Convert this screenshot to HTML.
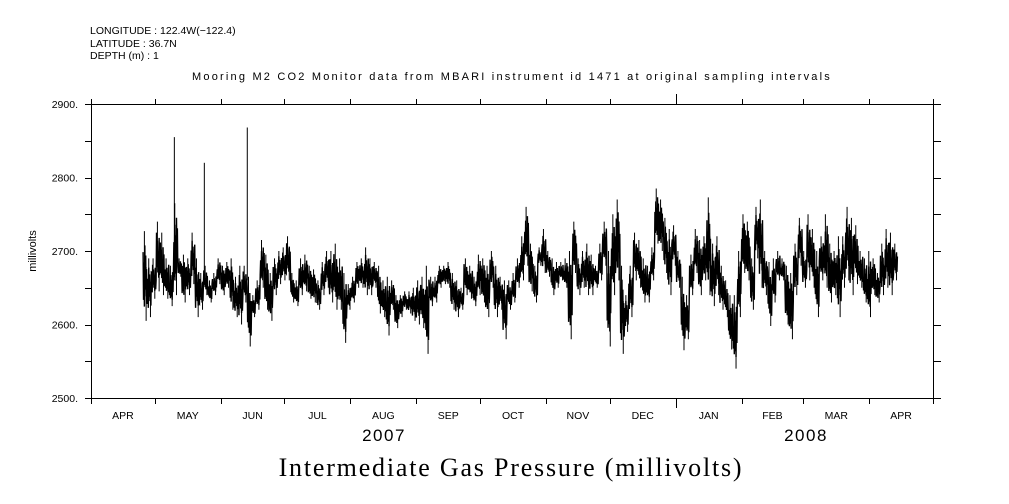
<!DOCTYPE html>
<html><head><meta charset="utf-8"><style>
body{margin:0;background:#fff;width:1009px;height:504px;overflow:hidden}
svg{display:block}
text{font-family:"Liberation Sans",sans-serif;fill:#000}
</style></head><body>
<svg id="chart" width="1009" height="504" viewBox="0 0 1009 504" xmlns="http://www.w3.org/2000/svg">
<g font-size="10.5">
<text x="90" y="34">LONGITUDE : 122.4W(−122.4)</text>
<text x="90" y="47">LATITUDE : 36.7N</text>
<text x="90" y="59">DEPTH (m) : 1</text>
<text x="512" y="80" text-anchor="middle" font-size="11" letter-spacing="2.2">Mooring M2 CO2 Monitor data from MBARI instrument id 1471 at original sampling intervals</text>
</g>
<text x="36" y="251" font-size="11" text-anchor="middle" transform="rotate(-90 36 251)">millivolts</text>
<text x="384" y="441" font-size="17" letter-spacing="1.5" text-anchor="middle">2007</text>
<text x="806" y="441" font-size="17" letter-spacing="1.5" text-anchor="middle">2008</text>
<text x="511" y="476" font-size="26" letter-spacing="1.8" text-anchor="middle" style="font-family:'Liberation Serif',serif">Intermediate Gas Pressure (millivolts)</text>
<g id="axes"></g>
<g id="series"></g>
</svg>
<script>
const monthLabels=["APR","MAY","JUN","JUL","AUG","SEP","OCT","NOV","DEC","JAN","FEB","MAR","APR"];
const monthDays=[30,31,30,31,31,30,31,30,31,31,29,31,30];
const yTicks=[2500,2600,2700,2800,2900];
const startDay=24.5;
const stepDays=2.04;
const hiVals=[2727,2690,2690,2740,2725,2690,2680,2765,2690,2695,2690,2725,2690,2670,2680,2660,2670,2690,2680,2685,2690,2665,2680,2680,2665,2640,2660,2715,2695,2670,2690,2700,2705,2720,2670,2660,2690,2695,2680,2675,2660,2685,2700,2700,2710,2690,2670,2655,2665,2685,2690,2705,2690,2685,2680,2660,2665,2660,2640,2640,2645,2645,2650,2660,2665,2680,
2665,2665,2680,2680,2685,2670,2660,2650,2690,2680,2665,2695,2690,2680,2700,2680,2665,2660,2660,2670,2690,2720,2760,2710,2680,2705,2730,2700,2690,2685,2685,2690,2700,2740,2690,2700,2710,2695,2680,2710,2740,2700,2750,2770,2680,2640,2680,2725,2715,2690,2680,2705,2785,2770,2745,2730,2735,2700,2665,2640,2695,2730,2715,
2720,2773,2710,2720,2680,2660,2640,2640,2700,2750,2740,2690,2760,2770,2700,2685,2690,2700,2690,2680,2670,2710,2745,2700,2750,2730,2700,2720,2750,2710,2700,2720,2720,2760,2745,2735,2700,2690,2700,2690,2670,2710,2730,2725,2710];
const loVals=[2605,2610,2635,2645,2640,2635,2625,2640,2665,2630,2640,2655,2610,2620,2640,2630,2640,2655,2640,2650,2620,2610,2600,2630,2570,2610,2620,2650,2620,2605,2640,2655,2660,2660,2630,2625,2640,2645,2635,2630,2620,2640,2650,2630,2620,2620,2575,2620,2630,2650,2650,2640,2640,2650,2615,2610,2585,2620,2595,2610,2620,2615,2605,2600,2595,2560,
2625,2630,2650,2655,2650,2620,2610,2620,2640,2635,2625,2640,2630,2610,2650,2610,2620,2580,2620,2630,2650,2660,2680,2645,2630,2680,2670,2665,2640,2650,2660,2650,2580,2670,2640,2650,2640,2640,2650,2660,2680,2570,2640,2660,2560,2590,2610,2660,2650,2630,2630,2660,2710,2700,2670,2640,2680,2650,2565,2580,2640,2670,2640,
2660,2640,2625,2640,2620,2610,2566,2540,2610,2670,2660,2620,2690,2650,2640,2598,2630,2660,2660,2600,2580,2640,2680,2650,2660,2650,2610,2660,2650,2630,2640,2610,2650,2660,2640,2655,2650,2630,2610,2640,2630,2640,2650,2640,2660];
const spikeDays=[39.2,53.3,73.5];
const spikeVals=[2855,2820,2868];

const X0=91,X1=933,Y0=104,Y1=398;
const totalDays=monthDays.reduce((a,b)=>a+b,0);
function xs(d){return X0+d/totalDays*(X1-X0);}
function ys(v){return Y1-(v-2500)/400*(Y1-Y0);}
const NS="http://www.w3.org/2000/svg";
function mk(tag,attrs,parent){const e=document.createElementNS(NS,tag);for(const k in attrs)e.setAttribute(k,attrs[k]);parent.appendChild(e);return e;}
const axes=document.getElementById('axes');
const frame=mk('rect',{x:X0+0.5,y:Y0+0.5,width:X1-X0,height:Y1-Y0,fill:'none',stroke:'#000','stroke-width':1},axes);


let d=0;
for(let i=0;i<=monthDays.length;i++){
  const x=Math.round(xs(d))+0.5;
  const big=(i===9);
  const tb=mk('line',{x1:x,x2:x,y1:Y1,y2:Y1+(big?10:6),stroke:'#000'},axes);
  
  
  const tt=mk('line',{x1:x,x2:x,y1:Y0,y2:Y0-(big?10:5),stroke:'#000'},axes);
  
  
  if(i<monthLabels.length){
    const t=mk('text',{x:xs(d+monthDays[i]/2),y:419,'text-anchor':'middle','font-size':10.5},axes);
    t.textContent=monthLabels[i];
    
    
    d+=monthDays[i];
  }
}
for(let v=2500;v<=2900;v+=50){
  const y=Math.round(ys(v))+0.5;
  const l=mk('line',{x1:X0-6,x2:X0,y1:y,y2:y,stroke:'#000'},axes);
  
  
  const r=mk('line',{x1:X1,x2:X1+8,y1:y,y2:y,stroke:'#000'},axes);
  
  
}
yTicks.forEach(v=>{
  const t=mk('text',{x:X0-13,y:ys(v)+4,'text-anchor':'end','font-size':10.5},axes);
  t.textContent=v+'.';
  
  
});
const ser=document.getElementById('series');
let outer='',inner='';
const fr=[0.85,0.15,0.7,0.05,0.95,0.3,0.8,0.2,0.6,0.1];
for(let i=0;i<hiVals.length;i++){
  const da=startDay+i*stepDays, xa=xs(da), xb=xs(da+stepDays);
  const hi=hiVals[i], lo=loVals[i];
  const n=10;
  for(let k=0;k<n;k++){
    const x=xa+(xb-xa)*k/n;
    const v=lo+(0.12+0.76*fr[(k+i)%10])*(hi-lo);
    inner+=(i===0&&k===0?'M':'L')+x.toFixed(2)+','+ys(v).toFixed(2);
  }
  const xm=xa+(xb-xa)*0.3, xn=xa+(xb-xa)*0.7;
  outer+='M'+xm.toFixed(2)+','+ys(hi).toFixed(2)+'V'+ys(lo+0.4*(hi-lo)).toFixed(2);
  outer+='M'+xn.toFixed(2)+','+ys(lo).toFixed(2)+'V'+ys(lo+0.6*(hi-lo)).toFixed(2);
}
const pIn=mk('path',{d:inner,fill:'none',stroke:'#000','stroke-width':1.4},ser);


const pOut=mk('path',{d:outer,fill:'none',stroke:'#000','stroke-width':1},ser);


spikeDays.forEach((sd,i)=>{
  const x=xs(sd);
  const s=mk('line',{x1:x,x2:x,y1:ys(spikeVals[i]),y2:ys(2660),stroke:'#000','stroke-width':1},ser);
  
  
});
</script>
</body></html>
